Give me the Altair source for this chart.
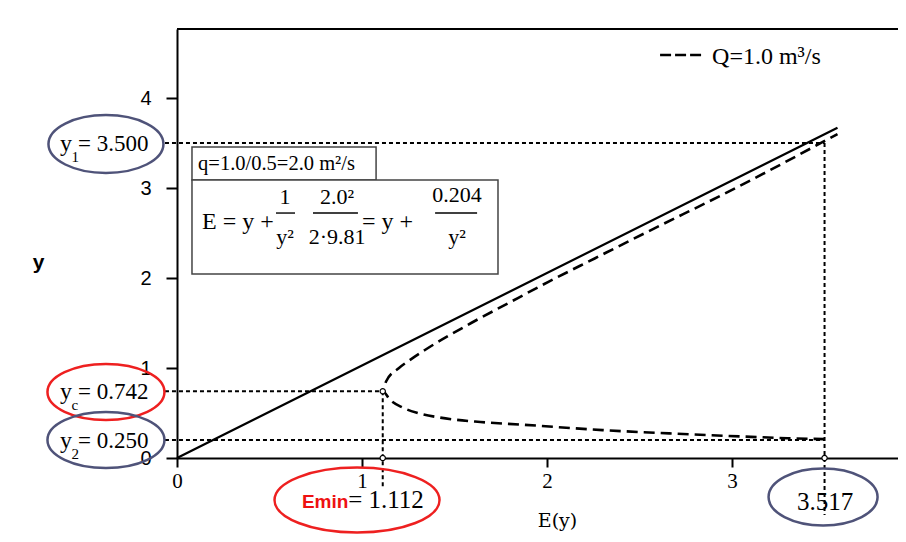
import altair as alt
import pandas as pd

# ---- values ----
x_ticks = [0, 1, 2, 3]
y_ticks = [0, 1, 2, 3, 4]

# solid line y = E
line_E = [0.0, 3.57]
line_y = [0.0, 3.67]

# dashed specific-energy curve (lower branch -> critical point -> upper branch)
curve_E = [3.50, 3.30, 3.04, 2.70, 2.30, 1.87, 1.64, 1.42, 1.30, 1.22, 1.15, 1.112,
           1.13, 1.20, 1.26, 1.34, 1.59, 1.79, 2.01, 2.26, 2.53, 3.02, 3.57]
curve_y = [0.21, 0.22, 0.24, 0.27, 0.31, 0.37, 0.40, 0.45, 0.50, 0.56, 0.65, 0.742,
           0.85, 1.00, 1.09, 1.20, 1.50, 1.72, 1.96, 2.22, 2.50, 3.00, 3.60]

# guide positions
y1_line, yc_line, y2_line = 3.5, 0.742, 0.2
emin_line, e2_line = 1.112, 3.5

left_labels = ["= 3.500", "= 0.742", "= 0.250"]
left_subs = ["1", "c", "2"]

# ---- scales / axes ----
xs = alt.Scale(domain=[0, 3.897], nice=False)
ys = alt.Scale(domain=[0, 4.767], nice=False)

xax = alt.Axis(values=x_ticks, format="d", title="E(y)", titleFont="DejaVu Serif",
               titleFontSize=19, titleFontWeight="normal", titleColor="black",
               titleX=380, titleY=62, titleAlign="center", titleBaseline="middle",
               labelFont="Liberation Serif", labelFontSize=21, labelColor="black",
               labelFlush=False, labelPadding=3, tickSize=9, tickWidth=2,
               tickColor="black", domainColor="black", domainWidth=2, grid=False)
yax = alt.Axis(values=y_ticks, format="d", title="y", titleAngle=0, titleX=-139,
               titleY=233, titleFont="Liberation Sans", titleFontSize=21,
               titleFontWeight="bold", titleColor="black", titleAlign="center",
               titleBaseline="middle", labelFont="Liberation Sans", labelFontSize=20,
               labelColor="black", labelPadding=15, labelFlush=False, tickSize=11,
               tickWidth=2, tickColor="black", domainColor="black", domainWidth=2,
               grid=False)


def X(f):
    return alt.X(f, type="quantitative", scale=xs, axis=xax)


def Y(f):
    return alt.Y(f, type="quantitative", scale=ys, axis=yax)


# ---- layers ----
line_df = pd.DataFrame({"E": line_E, "y": line_y})
solid = alt.Chart(line_df).mark_line(color="black", strokeWidth=2.2).encode(
    x=X("E"), y=Y("y"))

curve_df = pd.DataFrame({"E": curve_E, "y": curve_y, "o": list(range(len(curve_E)))})
dashed = alt.Chart(curve_df).mark_line(color="black", strokeWidth=2.6,
                                       strokeDash=[11, 6], interpolate="monotone").encode(
    x=X("E"), y=Y("y"), order="o:Q")

guide_df = pd.DataFrame({
    "E1": [-0.065, -0.065, -0.065, emin_line, e2_line],
    "E2": [e2_line, emin_line, e2_line, emin_line, e2_line],
    "Y1": [y1_line, yc_line, y2_line, yc_line, y1_line],
    "Y2": [y1_line, yc_line, y2_line, -0.32, -0.633],
})
guides = alt.Chart(guide_df).mark_rule(color="black", strokeWidth=2,
                                       strokeDash=[4, 3]).encode(
    x=X("E1"), x2="E2", y=Y("Y1"), y2="Y2")

pts_df = pd.DataFrame({"E": [emin_line, emin_line, e2_line],
                       "y": [yc_line, 0, 0]})
pts = alt.Chart(pts_df).mark_point(shape="circle", size=28, filled=True,
                                   fill="white", stroke="black",
                                   strokeWidth=1.2, opacity=1).encode(
    x=X("E"), y=Y("y"))


def ellipse(r):
    return f"M-1,0A1,{r} 0 1,1 1,0A1,{r} 0 1,1 -1,0Z"


oval_df = pd.DataFrame({
    "E": [-0.384, -0.384, -0.384, 0.973, 3.492],
    "y": [3.489, 0.733, 0.2, -0.467, -0.433],
    "shp": [ellipse(0.504), ellipse(0.479), ellipse(0.479), ellipse(0.394), ellipse(0.523)],
    "sz": [115 ** 2, 117 ** 2, 117 ** 2, 165 ** 2, 109 ** 2],
    "col": ["#4f5379", "#ee2020", "#4f5379", "#ee2020", "#4f5379"],
})
ovals = alt.Chart(oval_df).mark_point(filled=False, strokeWidth=2.5, opacity=1).encode(
    x=X("E"), y=Y("y"),
    shape=alt.Shape("shp:N", scale=None),
    size=alt.Size("sz:Q", scale=None),
    color=alt.Color("col:N", scale=None))


def text_layer(E, y, s, **kw):
    df = pd.DataFrame({"E": E, "y": y, "t": s})
    return alt.Chart(df).mark_text(**kw).encode(x=X("E"), y=Y("y"), text="t:N")


ly = [y1_line, yc_line, y2_line]
t_y = text_layer([-0.568] * 3, ly, ["y"] * 3, align="right", baseline="alphabetic",
                 dy=8, font="Liberation Serif", fontSize=24, color="black")
t_sub = text_layer([-0.570] * 3, ly, left_subs, align="left", baseline="alphabetic",
                   dy=19, font="Liberation Serif", fontSize=15, color="black")
t_val = text_layer([-0.535] * 3, ly, left_labels, align="left", baseline="alphabetic",
                   dy=8, font="Liberation Serif", fontSize=23, color="black")

t_emin = text_layer([0.675], [-0.556], ["Emin"], align="left", baseline="alphabetic",
                    font="Liberation Sans", fontSize=19, fontWeight="bold",
                    color="#ee1111")
t_eminv = text_layer([0.925], [-0.556], ["= 1.112"], align="left",
                     baseline="alphabetic", font="Liberation Serif", fontSize=25,
                     color="black")
t_e2 = text_layer([3.503], [-0.578], ["3.517"], align="center", baseline="alphabetic",
                  font="Liberation Serif", fontSize=25, color="black")

# legend
leg_df = pd.DataFrame({"E1": [2.611], "E2": [2.843], "y": [4.478]})
leg_line = alt.Chart(leg_df).mark_rule(color="black", strokeWidth=2.6,
                                       strokeDash=[11, 4]).encode(
    x=X("E1"), x2="E2", y=Y("y"))
t_leg = text_layer([2.892], [4.456], ["Q=1.0 m³/s"], align="left", baseline="middle",
                   font="Liberation Serif", fontSize=24, color="black")

# boxes
box_df = pd.DataFrame({"E1": [0.081, 0.081], "E2": [1.076, 1.735],
                       "Y1": [3.456, 3.089], "Y2": [3.089, 2.044]})
boxes = alt.Chart(box_df).mark_rect(fill="white", stroke="#444444",
                                    strokeWidth=1.5).encode(
    x=X("E1"), x2="E2", y=Y("Y1"), y2="Y2")

t_q = text_layer([0.114], [3.267], ["q=1.0/0.5=2.0 m²/s"], align="left",
                 baseline="middle", font="Liberation Serif", fontSize=20.5,
                 color="black")
t_f1 = text_layer([0.135, 1.0], [2.622, 2.622], ["E = y +", "= y +"], align="left",
                  baseline="middle", font="Liberation Serif", fontSize=24,
                  color="black")
t_num = text_layer([0.584, 0.865, 1.514], [2.9, 2.9, 2.922], ["1", "2.0²", "0.204"],
                   align="center", baseline="middle", font="Liberation Serif",
                   fontSize=22, color="black")
t_den = text_layer([0.584, 0.865, 1.514], [2.456, 2.456, 2.456], ["y²", "2·9.81", "y²"],
                   align="center", baseline="middle", font="Liberation Serif",
                   fontSize=22, color="black")
bar_df = pd.DataFrame({"E1": [0.535, 0.735, 1.395], "E2": [0.638, 0.978, 1.622],
                       "y": [2.722, 2.722, 2.722]})
bars = alt.Chart(bar_df).mark_rule(color="black", strokeWidth=1.4).encode(
    x=X("E1"), x2="E2", y=Y("y"))

frame = alt.Chart(pd.DataFrame({"a": [0]})).mark_rule(color="black", strokeWidth=2).encode(
    x=alt.value(0), x2=alt.value(721), y=alt.value(0))

chart = alt.layer(
    solid, boxes, guides, dashed, pts, ovals, t_y, t_sub, t_val, t_emin, t_eminv,
    t_e2, leg_line, t_leg, t_q, t_f1, t_num, t_den, bars, frame
).properties(
    width=721, height=429,
    padding={"left": 169, "top": 21, "right": 0, "bottom": 76},
    autosize=alt.AutoSizeParams(type="none"),
    background="white",
).configure_view(stroke=None)

chart.save("out.html", embed_options={"renderer": "svg", "actions": False})
